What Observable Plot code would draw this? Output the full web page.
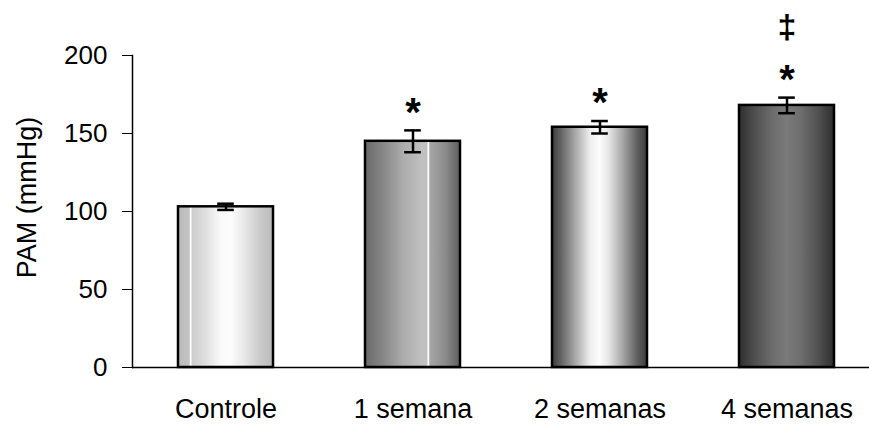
<!DOCTYPE html>
<html>
<head>
<meta charset="utf-8">
<script src="https://cdn.jsdelivr.net/npm/d3@7"></script>
<script src="https://cdn.jsdelivr.net/npm/@observablehq/plot@0.6"></script>
<style>
  html, body { margin: 0; padding: 0; background: #fff; }
  svg { font-family: "Liberation Sans", Arial, sans-serif; }
</style>
</head>
<body>
<div id="chart"></div>
<script>
const categories = ["Controle", "1 semana", "2 semanas", "4 semanas"];
const means = [103, 145, 154, 168];
const errors = [2, 7, 4, 5];
const stars = ["", "*", "*", "*"];
const daggers = ["", "", "", "‡"];
const yTicks = [0, 50, 100, 150, 200];
const yLabel = "PAM (mmHg)";

const gradIds = ["g0", "g1", "g2", "g3"];
const data = categories.map((c, i) => ({
  cat: c, mean: means[i], err: errors[i],
  lo: means[i] - errors[i], hi: means[i] + errors[i],
  star: stars[i], dagger: daggers[i], fill: `url(#${gradIds[i]})`
}));

const step = 187;
const pad = 0.49;
const bw = step * (1 - pad);
const capW = 17;

const svg = Plot.plot({
  width: 869,
  height: 425,
  marginTop: 55,
  marginBottom: 58,
  marginLeft: 132,
  marginRight: 0,
  style: { fontFamily: "Liberation Sans, Arial, sans-serif", color: "#000", background: "#fff" },
  x: { domain: categories, range: [132, 880], paddingInner: pad, paddingOuter: pad / 2, label: null },
  y: { domain: [0, 200], ticks: yTicks, label: null },
  color: { type: "identity" },
  marks: [
    Plot.barY(data, { x: "cat", y: "mean", fill: "fill", stroke: "#000", strokeWidth: 2.5 }),
    Plot.ruleX(data, { x: "cat", y1: "lo", y2: "hi", stroke: "#000", strokeWidth: 2.5 }),
    Plot.tickY(data, { x: "cat", y: "lo", stroke: "#000", strokeWidth: 2.5, insetLeft: (bw - capW) / 2, insetRight: (bw - capW) / 2 }),
    Plot.tickY(data, { x: "cat", y: "hi", stroke: "#000", strokeWidth: 2.5, insetLeft: (bw - capW) / 2, insetRight: (bw - capW) / 2 }),
    Plot.text(data, { x: "cat", y: "hi", text: "star", dy: -33, fontSize: 40, fontWeight: "bold", lineAnchor: "top", fill: "#000" }),
    Plot.text(data, { x: "cat", y: "hi", text: "dagger", dy: -71, fontSize: 34, fontWeight: "bold", lineAnchor: "middle", fill: "#000" }),
    Plot.ruleY([0], { stroke: "#000", strokeWidth: 1.5 }),
    Plot.frame({ anchor: "left", stroke: "#000", strokeWidth: 1.5 }),
    Plot.axisY({ ticks: yTicks, tickSize: 10, tickPadding: 15, fontSize: 26, label: null, stroke: "#000", fill: "#000" }),
    Plot.axisX({ tickSize: 0, tickPadding: 31, fontSize: 27, label: null, fill: "#000" }),
    Plot.text([yLabel], { frameAnchor: "left", textAnchor: "middle", dx: -105, dy: -14, rotate: -90, fontSize: 27, text: d => d, fill: "#000" })
  ]
});

const defs = d3.select(svg).insert("defs", ":first-child");
const stopsSets = [
  [[0, "#bababa"], [0.12, "#c4c4c4"], [0.125, "#ffffff"], [0.14, "#ffffff"], [0.145, "#cccccc"], [0.3, "#e0e0e0"], [0.45, "#fafafa"], [0.55, "#fdfdfd"], [0.7, "#e8e8e8"], [0.85, "#cccccc"], [1, "#bababa"]],
  [[0, "#6a6a6a"], [0.2, "#888888"], [0.4, "#acacac"], [0.6, "#c0c0c0"], [0.655, "#c0c0c0"], [0.66, "#ffffff"], [0.675, "#ffffff"], [0.68, "#a8a8a8"], [0.85, "#8a8a8a"], [1, "#5e5e5e"]],
  [[0, "#3c3c3c"], [0.1, "#666666"], [0.25, "#aaaaaa"], [0.4, "#eeeeee"], [0.5, "#fcfcfc"], [0.6, "#e4e4e4"], [0.75, "#a4a4a4"], [0.9, "#5e5e5e"], [1, "#3c3c3c"]],
  [[0, "#2e2e2e"], [0.15, "#4c4c4c"], [0.35, "#6c6c6c"], [0.5, "#7a7a7a"], [0.65, "#6e6e6e"], [0.85, "#4e4e4e"], [1, "#2e2e2e"]]
];
stopsSets.forEach((stops, i) => {
  const g = defs.append("linearGradient").attr("id", gradIds[i]).attr("x1", 0).attr("x2", 1).attr("y1", 0).attr("y2", 0);
  stops.forEach(([o, c]) => g.append("stop").attr("offset", o).attr("stop-color", c));
});

document.getElementById("chart").appendChild(svg);
</script>
</body>
</html>
